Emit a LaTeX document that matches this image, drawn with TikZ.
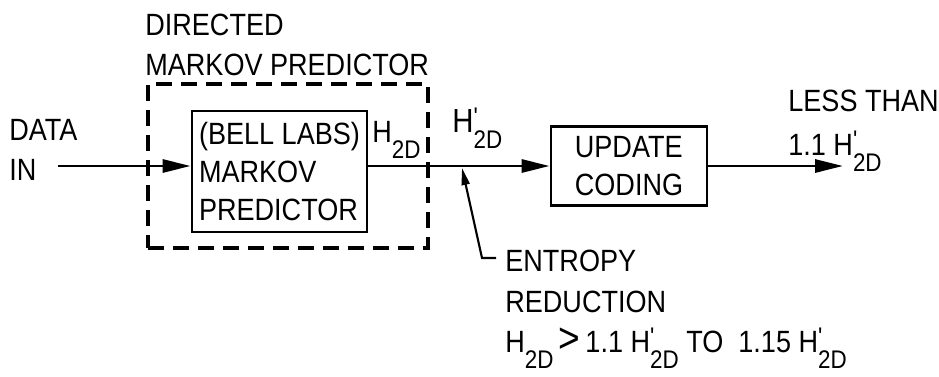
\documentclass[tikz,border=0pt]{standalone}
\usepackage{fontspec}
\setmainfont[FakeStretch=0.88]{Liberation Sans}
\usetikzlibrary{arrows.meta,positioning,calc}
\newcommand{\subtxt}[1]{\raisebox{-9pt}{\fontsize{14.5}{16}\selectfont #1}}
\newcommand{\Hsub}{H\subtxt{2D}}
\newcommand{\Hprm}{H\rlap{\raisebox{4pt}{\fontsize{14.5}{16}\selectfont\textquotesingle}}\subtxt{2D}}
\tikzset{
  lbl/.style     ={inner sep=0pt, align=left,
                   font=\fontsize{17.5}{22.5}\selectfont},
  blockbox/.style={draw, line width=1.6pt, align=left, inner sep=0pt,
                   font=\fontsize{17.5}{21.5}\selectfont},
  dashbox/.style ={draw, line width=2pt, dash pattern=on 0.32cm off 0.18cm},
  arr/.style     ={-{Triangle[length=0.56cm,width=0.26cm]}, line width=1.7pt},
  ptr/.style     ={-{Triangle[length=0.34cm,width=0.16cm]}, line width=1.2pt},
}
\begin{document}
\begin{tikzpicture}[x=0.02cm,y=-0.02cm]
  \useasboundingbox (0,0) rectangle (939,376);
  % predictor block
  \node[dashbox, minimum width=5.6cm, minimum height=3.28cm] (dirbox) at (288,166) {};
  \node[lbl, anchor=north west] (dirlbl) at (145,14) {DIRECTED\\MARKOV PREDICTOR};
  \node[blockbox, minimum width=3.5cm, minimum height=2.42cm] (markov) at (279.5,171.5)
    {(BELL LABS)\\MARKOV\\PREDICTOR};
  \node[lbl, anchor=north west] (datain) at (9,119) {DATA\\IN};
  \node[lbl, anchor=north west] (hout) at (372,121) {\Hsub};
  % coding block
  \node[blockbox, minimum width=3.12cm, minimum height=1.58cm] (update) at (629,166)
    {UPDATE\\CODING};
  \node[lbl, anchor=north west, font=\fontsize{19}{23}\selectfont] (hin) at (452,108) {\Hprm};
  \node[lbl, anchor=north west, font=\fontsize{17.5}{25}\selectfont] (less) at (788,90)
    {LESS THAN\\1.1 \Hprm};
  \node[lbl, anchor=north west, font=\fontsize{17.5}{23}\selectfont] (reduction) at (505,250)
    {ENTROPY\\REDUCTION\\\Hsub\,{\fontsize{24}{24}\selectfont >}\,1.1 \Hprm\ TO\ \ 1.15 \Hprm};
  % connectors
  \coordinate (datastart) at (58,166);
  \coordinate (outend) at (843,166);
  \coordinate (tap) at (462,168);
  \coordinate (knee) at (482,258);
  \coordinate (ptrstart) at (496,258);
  \draw[arr] (datastart) -- (datastart -| markov.west);
  \draw[arr] (update.west -| markov.east) -- (update.west);
  \draw[arr] (update.east) -- (outend);
  \draw[ptr] (ptrstart) -- (knee) -- (tap);
\end{tikzpicture}
\end{document}
